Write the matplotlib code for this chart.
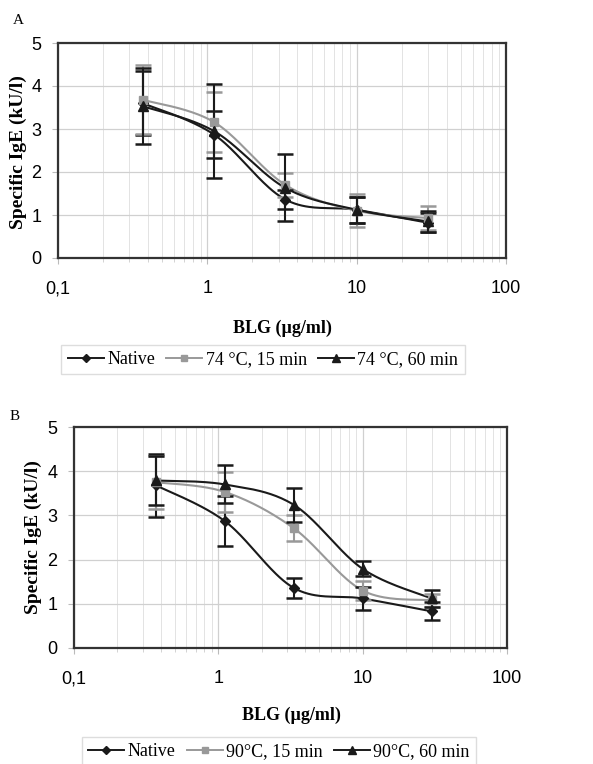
import numpy as np
import matplotlib
matplotlib.use("Agg")
import matplotlib.pyplot as plt
from matplotlib.lines import Line2D
from matplotlib.ticker import FixedLocator, FixedFormatter, LogLocator, NullFormatter

# ---------------- data ----------------
conc = [0.37, 1.11, 3.33, 10, 30]

labels_A = ["Native", "74 °C, 15 min", "74 °C, 60 min"]
native_A = [3.60, 2.87, 1.36, 1.12, 0.82]
native_A_err = [0.75, 0.55, 0.22, 0.30, 0.22]
m15_A = [3.68, 3.16, 1.70, 1.10, 0.93]
m15_A_err = [0.80, 0.70, 0.28, 0.38, 0.27]
m60_A = [3.53, 2.95, 1.63, 1.12, 0.85]
m60_A_err = [0.88, 1.10, 0.78, 0.30, 0.25]

labels_B = ["Native", "90°C, 15 min", "90°C, 60 min"]
native_B = [3.68, 2.87, 1.36, 1.12, 0.83]
native_B_err = [0.72, 0.57, 0.22, 0.25, 0.20]
m15_B = [3.75, 3.53, 2.71, 1.30, 1.08]
m15_B_err = [0.60, 0.45, 0.30, 0.22, 0.15]
m60_B = [3.79, 3.70, 3.24, 1.79, 1.12]
m60_B_err = [0.55, 0.43, 0.38, 0.17, 0.20]

xticks = [0.1, 1, 10, 100]
xticklabels = ["0,1", "1", "10", "100"]
yticks = [0, 1, 2, 3, 4, 5]

# ---------------- style ----------------
BLACK = "#1a1a1a"
GRAY = "#999999"
SERIF = ["Liberation Serif", "DejaVu Serif"]
SANS = ["Liberation Sans", "DejaVu Sans"]


def smooth(x, y, n=40):
    """Excel-like smoothed line (Catmull-Rom) in log10(x)-y space."""
    lx = np.log10(np.asarray(x, float))
    yy = np.asarray(y, float)
    px = np.concatenate([[lx[0]], lx, [lx[-1]]])
    py = np.concatenate([[yy[0]], yy, [yy[-1]]])
    outx, outy = [], []
    for i in range(1, len(px) - 2):
        p0, p1, p2, p3 = (np.array([px[j], py[j]]) for j in (i - 1, i, i + 1, i + 2))
        c1 = p1 + (p2 - p0) / 6.0
        c2 = p2 - (p3 - p1) / 6.0
        t = np.linspace(0, 1, n)[:, None]
        b = ((1 - t) ** 3) * p1 + 3 * ((1 - t) ** 2) * t * c1 + 3 * (1 - t) * t ** 2 * c2 + t ** 3 * p2
        outx.extend(b[:, 0]); outy.extend(b[:, 1])
    return 10 ** np.array(outx), np.array(outy)


def panel(ax, series, labels, legend_center, xlabel_coords, ylabel_coords):
    ax.set_xscale("log")
    ax.set_xlim(0.1, 100)
    ax.set_ylim(0, 5)
    ax.xaxis.set_major_locator(FixedLocator(xticks))
    ax.xaxis.set_major_formatter(FixedFormatter(xticklabels))
    ax.xaxis.set_minor_locator(LogLocator(base=10, subs=np.arange(2, 10)))
    ax.xaxis.set_minor_formatter(NullFormatter())
    ax.set_yticks(yticks)
    ax.grid(True, which="major", color="#d0d0d0", lw=0.9)
    ax.grid(True, which="minor", axis="x", color="#e3e3e3", lw=0.7)
    ax.set_axisbelow(True)
    for s in ax.spines.values():
        s.set_color("#333333")
        s.set_linewidth(1.6)
    ax.tick_params(axis="x", which="major", length=4, pad=12, labelsize=13, color="#bbbbbb")
    ax.tick_params(axis="x", which="minor", length=3, color="#cccccc")
    ax.tick_params(axis="y", length=4, pad=8, labelsize=13, color="#bbbbbb")
    for lab in ax.get_xticklabels() + ax.get_yticklabels():
        lab.set_fontfamily(SANS)

    handles = []
    for (y, e, color, marker, ms), lab in zip(series, labels):
        sx, sy = smooth(conc, y)
        ax.plot(sx, sy, color=color, lw=1.5, zorder=3)
        ax.errorbar(conc, y, yerr=e, fmt="none", ecolor=color, elinewidth=1.5,
                    capsize=5.5, capthick=1.8, zorder=4)
        ax.plot(conc, y, linestyle="none", marker=marker, color=color, ms=ms, zorder=5)
        handles.append(Line2D([0], [0], color=color, lw=1.4, marker=marker, ms=ms - 1.5))

    ax.set_xlabel("BLG (µg/ml)", fontfamily=SERIF, fontweight="bold", fontsize=13, va="center")
    ax.xaxis.set_label_coords(*xlabel_coords)
    ax.set_ylabel("Specific IgE (kU/l)", fontfamily=SERIF, fontweight="bold", fontsize=14, va="center")
    ax.yaxis.set_label_coords(*ylabel_coords)

    fig.legend(handles, labels, loc="center", bbox_to_anchor=legend_center, ncol=3,
               frameon=True, fancybox=False, edgecolor="#d5d5d5", handlelength=2.0,
               handletextpad=0.2, columnspacing=0.6, borderpad=0.35,
               prop={"family": SERIF, "size": 13})


fig = plt.figure(figsize=(5.93, 7.64), dpi=100)

axA = fig.add_axes([58 / 593, 1 - 258 / 764, 448 / 593, 215 / 764])
seriesA = [(native_A, native_A_err, BLACK, "D", 5.5),
           (m15_A, m15_A_err, GRAY, "s", 6),
           (m60_A, m60_A_err, BLACK, "^", 7)]
panel(axA, seriesA, labels_A, (263 / 593, 1 - 359.5 / 764), (0.502, -0.326), (-0.089, 0.493))

axB = fig.add_axes([74 / 593, 1 - 648 / 764, 433 / 593, 221 / 764])
seriesB = [(native_B, native_B_err, BLACK, "D", 5.5),
           (m15_B, m15_B_err, GRAY, "s", 6),
           (m60_B, m60_B_err, BLACK, "^", 7)]
panel(axB, seriesB, labels_B, (279 / 593, 1 - 751.5 / 764), (0.503, -0.303), (-0.095, 0.502))

fig.text(13 / 593, 1 - 20 / 764, "A", fontfamily=SERIF, fontsize=11, va="center")
fig.text(10 / 593, 1 - 417 / 764, "B", fontfamily=SERIF, fontsize=11, va="center")

fig.savefig("out.png", dpi=100)
